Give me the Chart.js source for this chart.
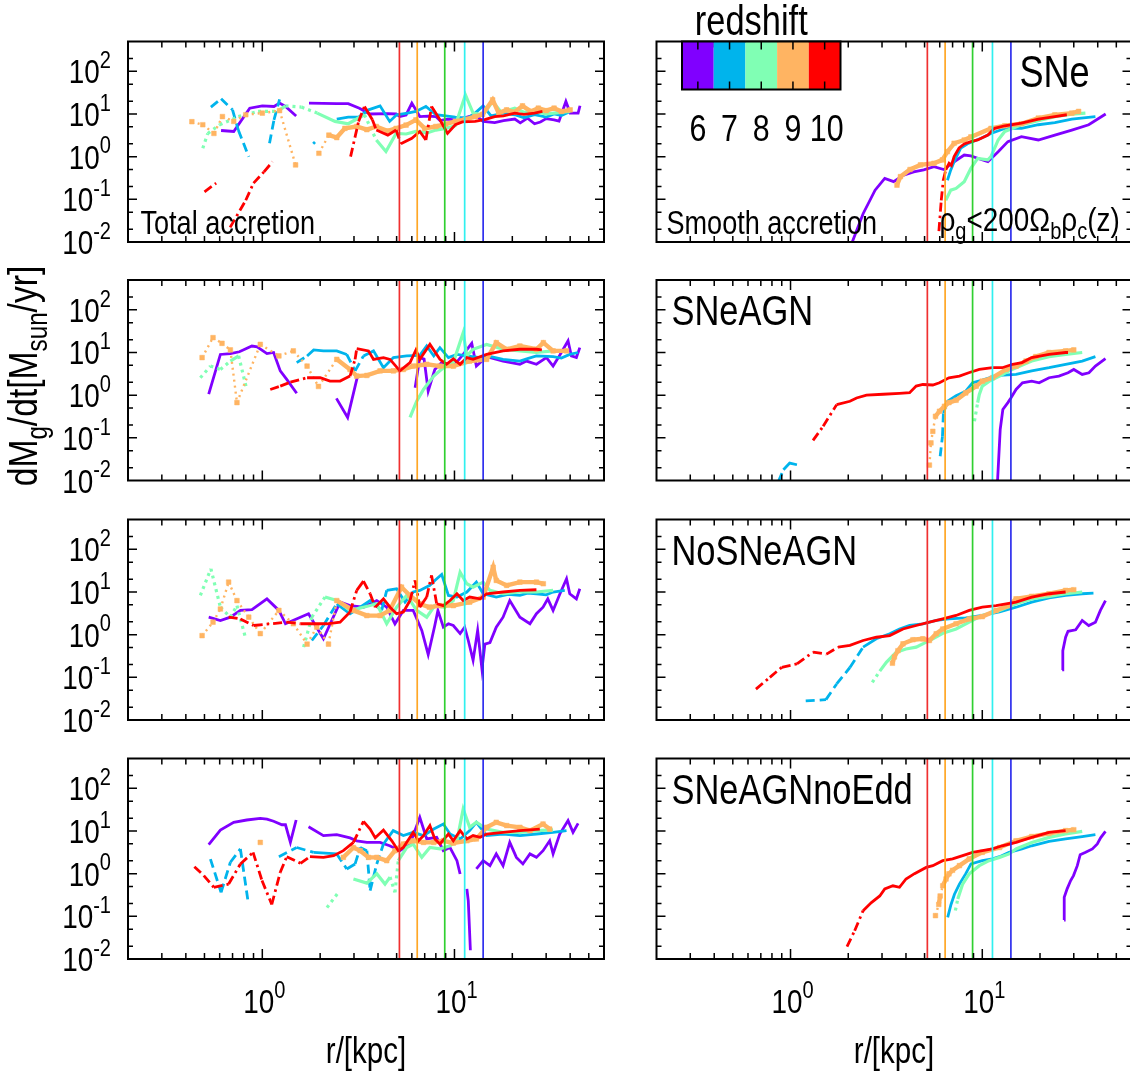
<!DOCTYPE html>
<html><head><meta charset="utf-8">
<script src="https://cdn.jsdelivr.net/npm/chart.js@4.4.1/dist/chart.umd.min.js"></script>
<style>
html,body{margin:0;padding:0;background:#fff;overflow:hidden;width:1130px;height:1078px;}
canvas{position:absolute;left:0;top:0;}
</style></head><body>
<script>
// ---------------- axes / categories ----------------
const X_MIN = 0.2, X_MAX = 60, Y_MIN = 0.01, Y_MAX = 500;
const xTickExps = [0, 1];
const yTickExps = [-2, -1, 0, 1, 2];
const redshifts = [6, 7, 8, 9, 10];
const zColors = ['rgb(128,0,255)', 'rgb(0,180,236)', 'rgb(128,255,180)', 'rgb(255,180,98)', 'rgb(255,0,0)'];
const vlineR = [5.17, 6.4, 8.9, 11.3, 14.1];
const vlineColors = ['#f03030', '#ffa726', '#30d030', '#30f0f0', '#3030ee'];
const panelNames = ['SNe', 'SNeAGN', 'NoSNeAGN', 'SNeAGNnoEdd'];

// ---------------- Total accretion, SNe ----------------
const totSNe_z6 = [[0.61,4.1],[0.71,3.9],[0.86,13.7],[1.0,15.5],[1.15,15],[1.23,18],[1.32,15],[1.5,9],[1.6,null],[1.75,18],[2.44,17.5],[2.8,17.5],[3.2,13.7],[3.63,10],[4.5,10.2],[4.97,10],[5.2,8.7],[5.6,9.5],[6.0,18],[6.6,8.7],[7.3,8.9],[8.0,8.7],[8.4,7],[9.2,7.6],[10.1,7.3],[11.4,8.2],[12.8,9.6],[14.1,6.7],[16.2,6.3],[18,7.0],[20.6,7.6],[22,6.2],[24,8.0],[26.1,5.9],[28,6.5],[30,7.8],[33,7.3],[35,6.8],[38,19.7],[40,10.5],[44,10.5],[45,15.6]];
const totSNe_z7 = [[0.54,14.5],[0.61,22.7],[0.70,12.5],[0.75,4.2],[0.85,1.0],[0.95,null],[1.09,2.06],[1.15,7.3],[1.23,22],[1.4,null],[1.84,2.0],[1.88,2.2],[2.0,null],[2.44,7.6],[2.8,8.4],[3.17,8.4],[3.57,12.5],[4.1,15.5],[4.6,6.7],[5.0,9.6],[5.7,10.5],[6.3,11.5],[7.1,15],[8.0,9.6],[10.1,8.4],[11.7,8],[12.8,10.5],[14.1,15.5],[15.5,9],[18,10.5],[20.6,9.6],[23,8.2],[26.1,9.6],[30,8.5],[33,10],[36,9.2],[40,11.5]];
const totSNe_z8 = [[0.49,1.57],[0.52,3.5],[0.60,5.6],[0.75,8.7],[0.95,11.5],[1.2,11.5],[1.32,15.5],[1.6,14.5],[1.93,10.5],[2.39,6.7],[2.8,5.9],[3.4,9.6],[3.92,2.46],[4.4,1.32],[4.97,3.5],[5.6,3.4],[6.3,3.9],[7.2,3.6],[8.0,4.2],[9.0,4.6],[10.1,5.3],[11.4,28],[12.5,10.5],[14.1,9.6],[15.8,19.7],[17.5,11],[20.6,13.7],[23,11],[26.1,11.5],[30,10],[33,10.5],[40,11.5]];
const totSNe_z9 = [[0.43,6.6],[0.49,5.6],[0.56,3.5],[0.62,8.7],[0.71,6.7],[0.82,9.6],[1.0,10.5],[1.23,12],[1.49,0.64],[1.7,null],[1.97,1.2],[2.22,3.2],[2.44,2.8],[2.69,4.6],[3.1,5.1],[3.5,4.3],[3.92,5.1],[4.5,4.0],[4.97,4.6],[5.6,5.5],[6.3,7.3],[7.0,4.6],[8.0,5.1],[9.0,5.8],[10.1,6.7],[11.4,7.5],[12.8,8.7],[14,9.8],[15.8,21.5],[17,10.5],[18.7,12.5],[20.5,11],[22.6,15.5],[25,11.5],[27.3,13.7],[30,12],[33,13.7],[36,11.5],[40,12.5]];
const totSNe_z10 = [[0.5,0.15],[0.575,0.24],[0.62,null],[0.68,0.022],[0.82,0.095],[0.90,0.24],[1.02,0.44],[1.13,0.76],[1.5,null],[2.88,1.0],[3.17,6.7],[3.4,15],[3.74,7.3],[3.92,4.2],[4.5,3.2],[4.97,4.2],[5.26,2.0],[6.0,2.7],[6.6,3.9],[7.1,2.46],[7.6,15],[8.4,7.3],[9.2,3.5],[10.1,5.6],[11,6.5],[12.8,6.7],[14.5,7.5],[16.2,8.7],[18,9.0],[20.6,10.5],[23,9.8],[26.1,10.5],[28.7,11.5]];

// ---------------- Smooth accretion, SNe ----------------
const smoSNe_z6 = [[2.08,0.009],[2.39,0.046],[2.76,0.164],[3.1,0.31],[3.45,0.26],[3.89,0.37],[4.39,0.44],[4.95,0.49],[5.6,0.58],[6.3,0.5],[7.13,0.76],[8.05,1.09],[8.72,1.04],[9.86,0.86],[10.7,0.76],[12.1,1.31],[13.6,2.25],[16,2.95],[19.6,2.46],[23.9,3.2],[29.3,4.2],[35.9,5.6],[44,10]];
const smoSNe_z7 = [[6.58,0.28],[6.85,0.49],[7.13,0.76],[7.73,1.6],[8.38,2.0],[9.86,2.7],[11.1,3.5],[13.1,4.6],[16,4.6],[19.6,5.6],[23.9,6.3],[29.3,7.6],[38.9,8.7]];
const smoSNe_z8 = [[6.45,0.095],[6.85,0.164],[7.3,0.18],[8.05,0.26],[8.72,0.53],[9.46,0.91],[10.7,0.84],[11.1,1.0],[12.1,2.46],[13.1,3.9],[16,5.6],[19.6,7.0],[23.9,8.7],[29.3,9.9],[34.5,10.5]];
const smoSNe_z9 = [[3.59,0.215],[3.74,0.34],[4.2,0.5],[4.76,0.64],[5.6,0.7],[6.19,0.84],[6.58,1.31],[7.13,2.06],[8.05,2.46],[8.72,2.9],[11.1,4.6],[13.1,5.3],[16,5.9],[19.6,8],[23.9,9.5],[29.3,10.5],[31.8,11.5]];
const smoSNe_z10 = [[5.94,0.018],[6.11,0.095],[6.26,0.28],[6.45,0.49],[6.71,0.7],[6.9,0.62],[7.13,1.0],[7.57,1.6],[8.05,1.98],[8.72,2.25],[9.46,2.46],[10.7,3.2],[11.6,4.6],[13.1,5.3],[16,6.1],[19.6,7.6],[23.9,8.7],[27.6,9.6]];

// ---------------- Total accretion, SNeAGN ----------------
const totAGN_z6 = [[0.526,1.06],[0.605,9],[0.682,9.4],[0.76,10.4],[0.883,14.2],[0.94,13.6],[1.057,9.4],[1.145,10],[1.24,3.7],[1.34,2.34],[1.51,1.11],[1.7,null],[2.43,0.84],[2.78,0.3],[3.13,2.8],[3.5,null],[6.24,1.49],[6.6,7.6],[6.95,7.0],[7.3,1.24],[7.9,4],[8.58,5.8],[9.3,5.3],[9.86,4.8],[11.1,9],[12.3,16.4],[13,4.8],[14.7,8],[17.9,6.3],[21.9,5.3],[23.7,6.3],[26.7,5.3],[30.1,7.6],[32.6,4.8],[35.3,8.6],[39,18.7],[40.6,8.3],[43.1,7.6],[44.9,13]];
const totAGN_z7 = [[1.51,5.8],[1.71,8.3],[1.85,11.5],[2.08,10.9],[2.44,10.9],[2.75,9],[3.04,3.7],[3.36,8.3],[3.79,10.9],[4.27,4.4],[4.81,7.6],[5.64,8.3],[6.6,8.6],[7.17,14.2],[7.8,8.3],[8.4,13],[9.3,7.6],[10.3,9],[11.6,8.3],[13.6,7.6],[15.5,8.0],[17.9,6.9],[21.9,6.3],[24,7.2],[26.7,8.3],[32.6,8],[36,7.4],[39.8,9],[44,10]];
const totAGN_z8 = [[0.476,2.56],[0.537,4.8],[0.605,4.0],[0.682,6.3],[0.753,8.3],[0.826,1.49],[1.0,null],[5.87,0.3],[6.36,0.72],[6.9,1.36],[7.8,2.8],[8.75,4.4],[9.86,5.8],[11.1,29],[11.6,8.3],[12.5,11.9],[14.7,15.5],[17.9,11.9],[21.9,10.9],[26.7,10],[32.6,10.9]];
const totAGN_z9 = [[0.486,7.6],[0.554,22.3],[0.617,16.4],[0.682,11.5],[0.738,0.67],[0.976,15.5],[1.22,8.3],[1.45,10.9],[1.71,4.8],[1.96,1.6],[2.44,6.9],[2.86,4.0],[3.1,2.8],[3.5,2.9],[4.1,3.7],[4.81,3.7],[5.42,4.0],[6.1,4.8],[7.17,5.3],[8.4,4.8],[9.86,4.8],[12,6.3],[14.7,6.9],[16.5,17],[18.7,11.9],[21.9,14.2],[26.7,11.9],[29,17],[32.6,10.9],[38.3,10.9]];
const totAGN_z10 = [[1.1,1.36],[1.24,1.63],[1.4,2.02],[1.71,2.56],[2.0,2.56],[2.25,2.14],[2.54,2.14],[2.86,2.8],[3.04,6.9],[3.1,12.3],[3.57,10.9],[3.79,6.9],[4.27,7.6],[4.62,6.9],[5.2,3.7],[5.87,5.8],[6.3,11.5],[6.6,6.9],[7.45,15.5],[8.4,6.9],[9.1,5.3],[9.86,7.1],[10.7,5.3],[11.6,7.6],[12.5,6.9],[14.7,9],[17.9,10.9],[21.9,11.9],[26.7,11.9],[28.5,11.5]];

// ---------------- Smooth accretion, SNeAGN ----------------
const smoAGN_z6 = [[12,0.009],[12.4,0.156],[12.8,0.46],[13.6,0.67],[14.1,0.86],[15,1.36],[16.2,1.95],[18.1,2.13],[19.8,1.95],[22.3,2.56],[25.1,2.8],[28,3.35],[30,4],[33.2,3.06],[36,3.35],[38.9,4.8],[43.9,7.2]];
const smoAGN_z7 = [[0.865,0.0095],[0.918,0.0178],[0.99,0.0256],[1.08,0.0234],[1.2,null],[6.03,0.037],[6.2,0.108],[6.27,0.38],[6.6,0.72],[7.3,0.97],[8.2,1.24],[8.9,1.95],[10,2.25],[11.3,2.7],[12.3,2.9],[15,3.06],[18.1,3.7],[22.3,4.4],[27.2,5.3],[33.2,6.3],[38.9,8]];
const smoAGN_z8 = [[9.1,0.244],[9.46,0.67],[9.65,1.04],[10,1.63],[10.9,2.13],[12.3,2.8],[13.8,3.7],[15,4.4],[18.1,6.3],[22.3,8],[27.2,9],[33.2,10]];
const smoAGN_z9 = [[5.3,0.023],[5.4,0.076],[5.52,0.142],[5.7,0.32],[5.98,0.42],[6.35,0.55],[6.7,0.67],[7.3,0.76],[8.2,1.13],[9.3,1.63],[10,2.13],[11.3,2.56],[13.3,4],[15,4.8],[16.9,6.3],[19,8],[22.3,10],[27.2,10.9],[30,11.5]];
const smoAGN_z10 = [[1.31,0.087],[1.48,0.187],[1.74,0.6],[2.04,0.72],[2.21,0.86],[2.49,1.0],[3.04,1.05],[3.7,1.1],[4.18,1.14],[4.52,1.63],[4.9,1.78],[5.52,1.73],[5.98,1.95],[6.7,2.56],[7.6,2.8],[8.5,3.35],[9.65,4],[11.3,4.4],[12.7,4.4],[14.4,5.3],[16.1,5.8],[18.1,7.6],[22.3,9],[27.2,10],[28,10]];

// ---------------- Total accretion, NoSNeAGN ----------------
const totNo_z6 = [[0.526,2.57],[0.605,2.15],[0.682,2.57],[0.769,3.7],[0.883,3.85],[1.057,6.9],[1.22,3.7],[1.32,1.8],[1.74,3.1],[2.08,0.8],[2.54,5.8],[2.86,4.8],[3.36,4.4],[3.94,6.3],[4.44,4.4],[4.9,1.8],[5.42,3.7],[6.1,3.7],[6.76,1.26],[7.3,0.34],[7.9,1.64],[8.2,3.7],[8.75,1.5],[9.3,1.8],[9.86,1.64],[10.7,1.06],[11.3,1.5],[11.8,0.73],[12.5,0.25],[13.2,1.26],[13.9,0.157],[14.4,0.6],[15.3,0.65],[16.5,1.5],[17.9,2.57],[19.4,6.3],[21.9,2.57],[24.7,1.8],[26.7,3.1],[28.9,4.4],[30.6,6.9],[32.6,3.7],[35.4,9.1],[38.3,20.5],[39.8,9.1],[43.1,6.9],[44.9,11.9]];
const totNo_z7 = [[1.81,0.73],[2.08,1.64],[2.44,5.3],[2.86,3.1],[3.23,4.4],[3.64,6.3],[4.18,3.7],[4.44,10.9],[5.0,11.9],[5.53,5.8],[6.1,10],[6.6,10.9],[7.45,14.3],[7.9,18.7],[8.58,25.9],[9.3,8.3],[10.3,7.6],[11.6,10],[13,17],[14.1,9.1],[16.5,7.6],[19,8.8],[21.9,8.3],[24,9.4],[26.7,9.1],[30,8.6],[32.6,10],[37.5,10.9]];
const totNo_z8 = [[0.476,8.3],[0.54,35],[0.605,4.4],[0.682,2.57],[0.738,4.8],[0.82,0.8],[1.0,null],[1.64,0.51],[1.81,2.57],[2.12,7.6],[2.44,6.3],[2.86,3.7],[3.36,4.4],[3.94,5.3],[4.44,1.8],[5.0,4.4],[5.64,8.3],[6.36,3.7],[7.17,2.57],[7.9,4.8],[8.9,4.4],[9.86,6.3],[10.7,29],[11.6,15.6],[12.5,13],[14.1,17],[15.3,10.9],[17.9,9.1],[21.9,10],[26.7,10],[32.6,10.9]];
const totNo_z9 = [[0.486,0.95],[0.554,1.96],[0.605,4.0],[0.668,17],[0.738,6.3],[0.85,2.57],[0.976,1.06],[1.22,3.7],[1.45,1.8],[1.71,0.6],[1.92,1.5],[2.21,0.6],[2.44,6.3],[2.98,3.7],[3.5,2.8],[4.1,2.8],[4.6,3.7],[5.3,13],[5.86,8.3],[6.6,5.3],[7.4,4.4],[8.4,4.8],[9.86,4.8],[12,5.8],[14.1,7.6],[15.9,38],[16.5,18.7],[18.7,14.3],[21.9,17],[26.7,17],[29,15.6]];
const totNo_z10 = [[0.668,2.57],[0.769,2.34],[0.902,1.64],[1.34,1.96],[1.58,1.8],[1.85,1.8],[2.17,1.8],[2.54,1.96],[2.86,3.4],[3.1,10.9],[3.36,18],[3.64,9.1],[3.87,4.4],[4.27,6.9],[4.62,4.4],[5.0,3.1],[5.42,3.4],[5.87,6.3],[6.24,18.7],[6.6,4.4],[7.17,7.6],[7.6,24.5],[8.08,5.3],[8.75,4.8],[9.48,6.3],[10.3,9.1],[11.1,6.3],[12,7.6],[13.6,6.9],[14.7,9.1],[17.9,10],[21.9,10.9],[26.7,11.3]];

// ---------------- Smooth accretion, NoSNeAGN ----------------
const smoNo_z6 = [[26.1,0.149],[26.3,0.42],[27.2,0.87],[28,1.2],[30.7,1.3],[33.2,2.15],[35.9,1.64],[38.9,1.96],[41.3,3.7],[43.9,6.3]];
const smoNo_z7 = [[1.2,0.028],[1.53,0.03],[1.74,0.07],[2.04,0.17],[2.39,0.51],[2.8,0.8],[3.29,1.05],[3.7,1.36],[4.18,1.64],[4.9,1.8],[5.75,2.15],[6.7,2.34],[8.2,2.47],[10,2.82],[12.3,3.4],[15,4.4],[18.1,5.8],[22.3,7.3],[27.2,8.3],[33.2,9.1],[38,9.4]];
const smoNo_z8 = [[2.67,0.076],[2.92,0.14],[3.16,0.225],[3.56,0.39],[4.0,0.46],[4.52,0.51],[5.1,0.67],[5.52,0.8],[6.22,1.08],[7.3,1.36],[8.55,1.96],[10,2.82],[12.3,3.7],[15,5.3],[18.1,6.9],[22.3,7.9],[27.2,9.1],[33.2,10]];
const smoNo_z9 = [[3.4,0.214],[3.48,0.3],[3.63,0.42],[3.86,0.61],[4.35,0.76],[4.9,0.8],[5.3,0.73],[5.75,1.05],[6.22,1.36],[7.3,1.8],[8.55,2.34],[10,2.65],[11.8,3.7],[13.8,4.8],[15,6.9],[18.1,7.9],[22.3,9.1],[27.2,10.9],[30,11.3]];
const smoNo_z10 = [[0.66,0.053],[0.78,0.1],[0.9,0.172],[1.08,0.206],[1.31,0.39],[1.54,0.35],[1.77,0.51],[2.04,0.56],[2.39,0.73],[2.8,0.87],[3.29,0.95],[3.86,1.36],[4.52,1.64],[5.3,1.96],[6.22,2.34],[7.3,2.82],[8.55,3.7],[10,4.4],[11.8,4.8],[15,5.8],[18.1,7.6],[22.3,9.1],[27.2,10]];

// ---------------- Total accretion, SNeAGNnoEdd ----------------
const totEdd_z6 = [[0.526,4.8],[0.605,10.5],[0.71,16],[0.83,18.1],[0.976,19.8],[1.057,19],[1.145,16.9],[1.265,14],[1.32,14],[1.4,5.4],[1.5,18.1],[1.6,null],[1.74,12.6],[2.08,7.8],[2.44,8.2],[2.86,6.9],[3.1,5.9],[3.5,5.4],[4.1,5.4],[4.6,4.5],[5.2,3.46],[5.87,4.95],[6.6,20.9],[7.17,6.5],[8.08,7.1],[8.75,3.46],[9.48,4.1],[10.3,2.02],[10.7,0.98],[11.0,null],[11.6,0.44],[11.8,0.23],[12.1,0.016],[12.5,null],[13.0,1.29],[14.1,2.02],[15.3,1.54],[16.5,2.9],[17.9,1.54],[19.4,5.4],[21,2.41],[22.7,1.69],[24.7,2.9],[26.7,2.41],[28.9,3.46],[31.3,5.9],[32.6,2.9],[35.3,8.5],[39,17.5],[41.4,9.3],[44,15.1]];
const totEdd_z7 = [[0.537,2.2],[0.61,0.365],[0.682,1.85],[0.769,3.8],[0.842,0.23],[1.0,null],[1.22,2.5],[1.51,4.1],[1.85,3.16],[2.44,2.9],[2.75,1.29],[3.04,1.69],[3.23,4.1],[3.5,3.46],[3.64,0.4],[3.94,1.69],[4.27,4.95],[4.8,10.2],[5.42,7.8],[6.1,9.3],[6.9,7.8],[7.8,11.1],[8.75,14.6],[9.48,8.5],[10.7,6.5],[12,10.2],[13,16],[14.7,7.8],[17.9,8.5],[21.9,7.8],[26.7,8.5],[32.6,9.3],[38.3,10.2]];
const totEdd_z8 = [[2.17,0.16],[2.49,0.365],[2.7,null],[2.98,0.75],[3.5,0.6],[3.94,1.0],[4.35,0.57],[4.62,0.83],[4.9,0.365],[5.1,2.02],[5.64,4.1],[6.1,4.95],[6.76,2.41],[7.45,4.1],[8.4,3.8],[9.48,4.5],[10.3,5.9],[11.1,32.8],[12,12.2],[13,16],[14.7,11.1],[17.9,9.3],[21.9,9.3],[26.7,10.2],[32.6,10.6]];
const totEdd_z9 = [[0.976,5.4],[1.1,null],[2.64,2.41],[2.98,4.1],[3.23,3.46],[3.57,2.41],[3.94,2.41],[4.44,2.02],[4.9,3.46],[5.42,4.95],[6.1,5.9],[6.9,5.4],[7.8,5.4],[8.75,5.9],[9.86,5.2],[11.6,5.9],[13,6.5],[14.7,12.2],[16.5,16],[18.7,13.4],[21.9,12.2],[24.7,10.2],[28.9,14.6],[31.3,11.1]];
const totEdd_z10 = [[0.443,1.46],[0.496,0.9],[0.559,0.48],[0.668,0.57],[0.769,1.69],[0.895,3.16],[0.996,0.69],[1.12,0.19],[1.24,1.08],[1.34,2.5],[1.58,1.75],[1.77,2.5],[2.08,2.41],[2.35,2.63],[2.64,3.46],[2.98,5.4],[3.36,16.8],[3.64,11.1],[3.87,6.9],[4.27,10.5],[4.72,5.9],[5.1,3.46],[5.42,4.1],[6.1,9.3],[6.5,5.9],[6.9,7.8],[7.45,13.4],[7.9,6.5],[8.4,4.95],[9.3,8.5],[9.86,5.9],[10.7,10.2],[11.6,6.5],[12.5,7.8],[13.6,7.1],[14.7,8.5],[17.9,9.3],[21.9,10.2],[27.8,11.1]];

// ---------------- Smooth accretion, SNeAGNnoEdd ----------------
const smoEdd_z6 = [[26.7,0.082],[26.75,0.28],[27.7,0.44],[28.9,0.69],[29.9,0.9],[31.3,1.54],[32.4,2.79],[34.6,3.16],[37.5,3.8],[39.8,4.95],[41.4,6.9],[43.9,9.8]];
const smoEdd_z7 = [[6.6,0.095],[6.87,0.19],[7.16,0.33],[7.6,0.57],[8.2,1.0],[8.73,1.69],[10,2.02],[11.3,2.22],[12.3,2.5],[13.8,3.16],[16.1,3.8],[18.1,4.5],[22.3,5.7],[27.2,6.5],[33.2,7.4],[38.9,8.2]];
const smoEdd_z8 = [[7.24,0.137],[7.45,0.255],[7.9,0.57],[8.55,0.99],[9.65,1.54],[10.85,2.02],[12.3,2.41],[13.8,2.9],[15,3.8],[18.1,5.4],[22.3,7.1],[27.2,8.5],[33.2,9.8]];
const smoEdd_z9 = [[5.7,0.104],[5.93,0.19],[6.03,0.3],[6.22,0.52],[6.47,0.75],[6.7,0.99],[7.0,1.2],[7.6,1.54],[8.55,2.22],[10,3.16],[12.3,4.1],[15,5.9],[18.1,7.4],[22.3,8.8],[27.2,10.2],[30,10.7]];
const smoEdd_z10 = [[1.97,0.0195],[2.16,0.046],[2.39,0.136],[2.64,0.21],[2.92,0.3],[3.1,0.44],[3.42,0.52],[3.7,0.48],[4.0,0.75],[4.43,1.0],[5.1,1.4],[5.52,1.54],[6.22,2.02],[7.0,2.22],[7.9,2.64],[8.9,3.16],[10,3.46],[11.3,3.8],[12.7,4.5],[15,5.4],[18.1,7.1],[22.3,9.3],[27.2,10.2]];

// ---------------- styles / layout ----------------
const zDash = [[], [9,5], [3,4], [2,4], [9,4,2.5,4]];
const zWidth = [2.8, 2.8, 3.2, 2.4, 2.8];
const zDenseWidth = [2.8, 2.8, 3.2, 4.4, 2.8];
const DR_REF = 0.2, DENSE_PX = 10;
const W = 1136, H = 1078;
const colLeft = [128, 656.5], colWidth = 476;
const rowTop = [41.5, 280, 519.5, 758.5], rowHeight = 200.5;

const panels = [
  {row:0, col:0, series:[totSNe_z6, totSNe_z7, totSNe_z8, totSNe_z9, totSNe_z10]},
  {row:0, col:1, series:[smoSNe_z6, smoSNe_z7, smoSNe_z8, smoSNe_z9, smoSNe_z10]},
  {row:1, col:0, series:[totAGN_z6, totAGN_z7, totAGN_z8, totAGN_z9, totAGN_z10]},
  {row:1, col:1, series:[smoAGN_z6, smoAGN_z7, smoAGN_z8, smoAGN_z9, smoAGN_z10]},
  {row:2, col:0, series:[totNo_z6, totNo_z7, totNo_z8, totNo_z9, totNo_z10]},
  {row:2, col:1, series:[smoNo_z6, smoNo_z7, smoNo_z8, smoNo_z9, smoNo_z10]},
  {row:3, col:0, series:[totEdd_z6, totEdd_z7, totEdd_z8, totEdd_z9, totEdd_z10]},
  {row:3, col:1, series:[smoEdd_z6, smoEdd_z7, smoEdd_z8, smoEdd_z9, smoEdd_z10]}
];

// ---------------- text helpers ----------------
let NARROW = false;
(function(){
  const c = document.createElement('canvas').getContext('2d');
  c.font = '40px monospace'; const a = c.measureText('Total accretion Wm').width;
  c.font = '40px "Liberation Sans Narrow", monospace'; const b = c.measureText('Total accretion Wm').width;
  NARROW = Math.abs(a - b) > 1;
})();
const SX = NARROW ? 1 : 0.82;
function fontStr(s){ return NARROW ? s + 'px "Liberation Sans Narrow"' : s + 'px "Liberation Sans", Arial, sans-serif'; }
function partSize(p, size){ return (p.sup || p.sub) ? size * 0.72 : size; }
function richWidth(ctx, parts, size){
  let w = 0;
  for (const p of parts){ ctx.font = fontStr(partSize(p, size)); w += ctx.measureText(p.t).width; }
  return w * SX;
}
function drawRich(ctx, parts, x, y, size, align){
  const w = richWidth(ctx, parts, size);
  const x0 = align === 'center' ? x - w/2 : align === 'right' ? x - w : x;
  ctx.save();
  ctx.translate(x0, y); ctx.scale(SX, 1);
  ctx.fillStyle = '#000'; ctx.textAlign = 'left'; ctx.textBaseline = 'alphabetic';
  let cx = 0;
  for (const p of parts){
    ctx.font = fontStr(partSize(p, size));
    const dy = p.sup ? -size * 0.45 : p.sub ? size * 0.24 : 0;
    ctx.fillText(p.t, cx, dy);
    cx += ctx.measureText(p.t).width;
  }
  ctx.restore();
}

// ---------------- segment dash emulation ----------------
function isDense(c){
  const p0 = c.p0, p1 = c.p1;
  const len = Math.hypot(p1.x - p0.x, p1.y - p0.y);
  const xs = c.chart.scales.x;
  const r0 = p0.parsed ? p0.parsed.x : xs.getValueForPixel(p0.x);
  const r1 = p1.parsed ? p1.parsed.x : xs.getValueForPixel(p1.x);
  const dr = Math.abs(r1 - r0);
  return len * Math.min(1, DR_REF / Math.max(dr, 1e-6)) < DENSE_PX;
}
function segFor(k){
  const dash = zDash[k];
  return {
    borderDash: c => (dash.length === 0 || isDense(c)) ? [] : dash,
    borderDashOffset: c => (dash.length === 0 || isDense(c)) ? 0 : (c.p0DataIndex % 2 ? 0.01 : 0),
    borderWidth: c => isDense(c) ? zDenseWidth[k] : zWidth[k]
  };
}

// ---------------- decoration plugin ----------------
const deco = {
  id: 'deco',
  afterDatasetsDraw(chart, args, o){
    const ctx = chart.ctx, a = chart.chartArea, xs = chart.scales.x, ys = chart.scales.y;
    ctx.save();
    ctx.strokeStyle = '#000'; ctx.lineWidth = 1.5;
    ctx.beginPath();
    for (let e = -1; e <= 1; e++) for (let m = 1; m <= 9; m++){
      const v = m * Math.pow(10, e);
      if (v <= X_MIN * 1.001 || v >= X_MAX * 0.999) continue;
      const px = xs.getPixelForValue(v), len = m === 1 ? 10 : 6;
      ctx.moveTo(px, a.bottom); ctx.lineTo(px, a.bottom - len);
      ctx.moveTo(px, a.top); ctx.lineTo(px, a.top + len);
    }
    for (let e = -2; e <= 2; e++) for (const m of [1, 2, 5]){
      const v = m * Math.pow(10, e);
      if (v <= Y_MIN * 1.001 || v >= Y_MAX * 0.999) continue;
      const py = ys.getPixelForValue(v), len = m === 1 ? 9 : 5;
      ctx.moveTo(a.left, py); ctx.lineTo(a.left + len, py);
      ctx.moveTo(a.right, py); ctx.lineTo(a.right - len, py);
    }
    ctx.stroke();
    ctx.lineWidth = 2;
    ctx.strokeRect(a.left, a.top, a.right - a.left, a.bottom - a.top);

    if (o.col === 0){
      for (const e of yTickExps){
        const py = ys.getPixelForValue(Math.pow(10, e));
        drawRich(ctx, [{t:'10'}, {t:String(e), sup:true}], a.left - 17, py + 12, 34, 'right');
      }
    }
    if (o.row === 3){
      for (const e of xTickExps){
        const px = xs.getPixelForValue(Math.pow(10, e));
        drawRich(ctx, [{t:'10'}, {t:String(e), sup:true}], px + 2, a.bottom + 54, 34, 'center');
      }
      drawRich(ctx, [{t:'r/[kpc]'}], (a.left + a.right) / 2, a.bottom + 104, 36, 'center');
    }
    if (o.row === 0 && o.col === 0){
      drawRich(ctx, [{t:'Total accretion'}], a.left + 12.5, a.bottom - 8.5, 33, 'left');
    }
    if (o.row === 1 && o.col === 0){
      ctx.save();
      ctx.translate(37, 376); ctx.rotate(-Math.PI / 2);
      drawRich(ctx, [{t:'dM'}, {t:'g', sub:true}, {t:'/dt[M'}, {t:'sun', sub:true}, {t:'/yr]'}], 0, 0, 41, 'center');
      ctx.restore();
    }
    if (o.col === 1){
      if (o.row === 0){
        drawRich(ctx, [{t:'Smooth accretion'}], a.left + 10, a.bottom - 8.5, 33, 'left');
        drawRich(ctx, [{t:'ρ'}, {t:'g', sub:true}, {t:'<200Ω'}, {t:'b', sub:true}, {t:'ρ'}, {t:'c', sub:true}, {t:'(z)'}], a.left + 283, a.bottom - 11, 34, 'left');
        drawRich(ctx, [{t:panelNames[0]}], a.left + 363, a.top + 45, 44, 'left');
        // colour bar (redshift legend)
        const cbL = a.left + 25.5, cbT = a.top, cbW = 158.5, cbH = 48;
        const zLo = redshifts[0] - 0.5, zHi = redshifts[redshifts.length - 1] + 0.5;
        const zx = z => cbL + (z - zLo) / (zHi - zLo) * cbW;
        redshifts.forEach((z, i) => {
          ctx.fillStyle = zColors[i];
          ctx.fillRect(zx(z - 0.5), cbT, zx(z + 0.5) - zx(z - 0.5), cbH);
        });
        ctx.beginPath(); ctx.lineWidth = 1.5; ctx.strokeStyle = '#000';
        redshifts.forEach(z => {
          const px = zx(z);
          ctx.moveTo(px, cbT); ctx.lineTo(px, cbT + 8);
          ctx.moveTo(px, cbT + cbH); ctx.lineTo(px, cbT + cbH - 8);
        });
        ctx.stroke();
        ctx.lineWidth = 2; ctx.strokeRect(cbL, cbT, cbW, cbH);
        redshifts.forEach(z => drawRich(ctx, [{t:String(z)}], zx(z) + (z >= 10 ? 2 : 0), cbT + 99, 37, 'center'));
        drawRich(ctx, [{t:'redshift'}], cbL + cbW / 2 - 10, cbT - 6.5, 42, 'center');
      } else {
        drawRich(ctx, [{t:panelNames[o.row]}], a.left + 15, a.top + 45, 42, 'left');
      }
    }
    ctx.restore();
  }
};

// ---------------- build charts ----------------
const mk = arr => arr.map(p => ({x: p[0], y: p[1]}));
panels.forEach(p => {
  const cv = document.createElement('canvas');
  cv.width = W; cv.height = H; cv.style.width = W + 'px'; cv.style.height = H + 'px';
  document.body.appendChild(cv);
  const L = colLeft[p.col], T = rowTop[p.row];
  const datasets = [];
  p.series.forEach((s, k) => {
    datasets.push({
      data: mk(s), borderColor: zColors[k], backgroundColor: zColors[k],
      borderWidth: zWidth[k], pointRadius: k === 3 ? 3.3 : 0, pointStyle: 'rect',
      pointBackgroundColor: zColors[k], pointBorderColor: zColors[k], pointBorderWidth: 0.5,
      fill: false, tension: 0, spanGaps: false, clip: 0, order: 5 - k,
      segment: segFor(k)
    });
  });
  vlineR.forEach((r, k) => {
    datasets.push({
      data: [{x: r, y: Y_MIN}, {x: r, y: Y_MAX}], borderColor: vlineColors[k],
      borderWidth: 1.7, pointRadius: 0, fill: false, clip: 0, order: 0
    });
  });
  new Chart(cv, {
    type: 'line',
    data: {datasets},
    options: {
      responsive: false, animation: false, devicePixelRatio: 1, events: [],
      layout: {padding: {left: L, top: T, right: W - (L + colWidth), bottom: H - (T + rowHeight)}},
      scales: {
        x: {type: 'logarithmic', min: X_MIN, max: X_MAX, bounds: 'data', display: false},
        y: {type: 'logarithmic', min: Y_MIN, max: Y_MAX, bounds: 'data', display: false}
      },
      plugins: {legend: {display: false}, tooltip: {enabled: false}, title: {display: false},
        deco: {row: p.row, col: p.col}}
    },
    plugins: [deco]
  });
});
</script>
</body></html>
